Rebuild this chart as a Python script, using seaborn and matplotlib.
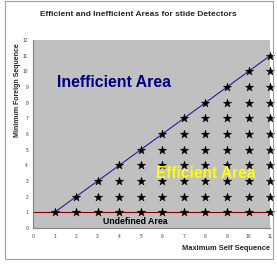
import matplotlib
matplotlib.use("Agg")
import matplotlib.pyplot as plt
import seaborn as sns
import pandas as pd
from matplotlib.patches import Rectangle

# data
self_seq = [1, 2, 3, 4, 5, 6, 7, 8, 9, 10, 11]
foreign_seq = [1, 2, 3, 4, 5, 6, 7, 8, 9, 10, 11]
boundary_x = [1, 11]
boundary_y = [1, 11]
undefined_x = [0, 11]
undefined_y = [1, 1]
x_ticks = [0, 1, 2, 3, 4, 5, 6, 7, 8, 9, 10, 11]
y_ticks = [0, 1, 2, 3, 4, 5, 6, 7, 8, 9, 10, 11, 12]

# efficient detectors: foreign length <= self length
pts = pd.DataFrame([(s, f) for s in self_seq for f in foreign_seq if f <= s],
                   columns=["self", "foreign"])

sns.set_style("white")
plt.rcParams['font.family'] = ['Liberation Sans', 'DejaVu Sans']

fig = plt.figure(figsize=(2.77, 2.67), dpi=100)
fig.patches.append(Rectangle((5 / 277, 8 / 267), 268 / 277, 258 / 267,
                             transform=fig.transFigure, fill=False,
                             edgecolor="#a0a0a0", linewidth=0.8))
ax = fig.add_axes([0.119, 0.146, 0.856, 0.704])
ax.set_facecolor("#c0c0c0")

sns.lineplot(x=undefined_x, y=undefined_y, ax=ax, color="#800000", linewidth=0.8)
sns.lineplot(x=boundary_x, y=boundary_y, ax=ax, color="#2020a0", linewidth=0.8)
sns.scatterplot(data=pts, x="self", y="foreign", ax=ax, marker="*", s=40,
                color="black", edgecolor="black", linewidth=0.3, zorder=3,
                clip_on=False)

ax.set_xlim(0, 11)
ax.set_ylim(0, 12)
ax.set_xticks(x_ticks)
ax.set_yticks(y_ticks)
ax.tick_params(labelsize=3.5, length=1.5, width=0.5, pad=3, colors="#404040")
ax.tick_params(axis="y", pad=2)
for sp in ["top", "right"]:
    ax.spines[sp].set_visible(False)
for sp in ["left", "bottom"]:
    ax.spines[sp].set_color("#808080")
    ax.spines[sp].set_linewidth(0.8)

ax.text(1.1, 9.3, "Inefficient Area", color="#000080", fontsize=11.4,
        fontweight="bold", va="center")
ax.text(5.7, 3.5, "Efficient Area", color="yellow", fontsize=11.2,
        fontweight="bold", va="center")
ax.text(3.24, 0.4, "Undefined Area", color="black", fontsize=6.3,
        fontweight="bold", va="center")

ax.set_xlabel("")
ax.set_ylabel("")
fig.text(0.5, 0.945, "Efficient and Inefficient Areas for stide Detectors",
         ha="center", va="center", fontsize=6, fontweight="bold")
fig.text(0.062, 0.663, "Minimum Foreign Sequence", rotation=90,
         ha="center", va="center", fontsize=5, fontweight="bold")
fig.text(0.975, 0.071, "Maximum Self Sequence", ha="right", va="center",
         fontsize=5.4, fontweight="bold")

fig.savefig("out.png", dpi=100)
